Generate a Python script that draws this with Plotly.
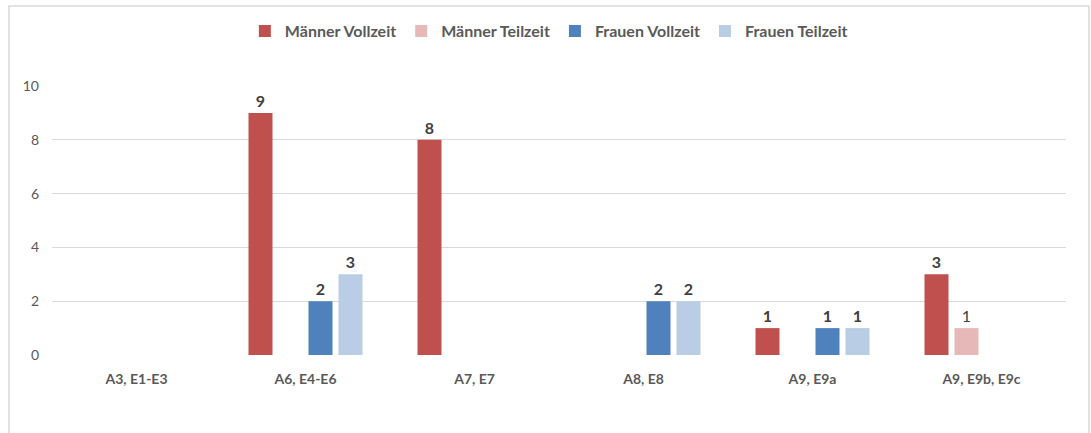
import plotly.graph_objects as go

categories = ["A3, E1-E3", "A6, E4-E6", "A7, E7", "A8, E8", "A9, E9a", "A9, E9b, E9c"]
maenner_vollzeit = [0, 9, 8, 0, 1, 3]
maenner_teilzeit = [0, 0, 0, 0, 0, 1]
frauen_vollzeit = [0, 2, 0, 2, 1, 0]
frauen_teilzeit = [0, 3, 0, 2, 1, 0]
y_ticks = [0, 2, 4, 6, 8, 10]

series = [
    ("Männer Vollzeit", maenner_vollzeit, "#C0504D", True),
    ("Männer Teilzeit", maenner_teilzeit, "#E6B9B8", False),
    ("Frauen Vollzeit", frauen_vollzeit, "#4F81BD", True),
    ("Frauen Teilzeit", frauen_teilzeit, "#B9CDE5", True),
]

FONT = "Lato, 'Open Sans', sans-serif"

fig = go.Figure()
for name, vals, color, bold in series:
    txt = [("<b>%d</b>" % v if bold else "%d" % v) if v > 0 else "" for v in vals]
    fig.add_trace(go.Bar(
        name=name, x=categories, y=vals, marker=dict(color=color, line=dict(width=0)),
        text=txt, texttemplate="%{text}", textposition="outside", cliponaxis=False,
        textfont=dict(family=FONT, size=16, color="#404040"),
        hoverinfo="x+y+name",
    ))

fig.update_layout(
    width=1091, height=433,
    margin=dict(l=52, r=25, t=86, b=78),
    paper_bgcolor="white", plot_bgcolor="white",
    barmode="group", bargap=0.29, bargroupgap=0.2,
    font=dict(family=FONT, color="#595959"),
    legend=dict(orientation="h", x=0.49, xanchor="center", y=1.204, yanchor="middle",
                font=dict(family=FONT, size=16, color="#595959", weight="bold"),
                itemwidth=30, traceorder="normal"),
)
fig.update_yaxes(range=[0, 10], tickvals=y_ticks, showgrid=True, gridcolor="#D9D9D9",
                 gridwidth=1, zeroline=False, showline=False,
                 tickfont=dict(family=FONT, size=14, color="#595959"),
                 ticklabelstandoff=12)
fig.update_xaxes(showgrid=False, showline=False, zeroline=False,
                 tickfont=dict(family=FONT, size=14, color="#595959", weight="bold"),
                 ticklabelstandoff=14)

# outer chart border
x0 = (9 - 52) / 1014
x1 = (1089 - 52) / 1014
fig.add_shape(type="rect", xref="paper", yref="paper", x0=x0, x1=x1, y0=-0.5, y1=(355 - 6) / 269,
              line=dict(color="#D9D9D9", width=1.5), fillcolor="rgba(0,0,0,0)", layer="below")

fig.write_html("out.html", config={"displayModeBar": False},
               post_script="document.body.style.margin='0';")
